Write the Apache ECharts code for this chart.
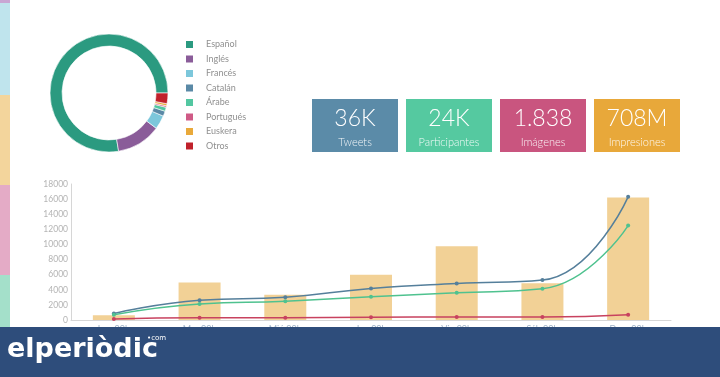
<!DOCTYPE html>
<html>
<head>
<meta charset="utf-8">
<script src="https://cdn.jsdelivr.net/npm/echarts@6/dist/echarts.min.js"></script>
<style>
  html, body { margin: 0; padding: 0; background: #fff; }
  #main { width: 720px; height: 377px; }
</style>
</head>
<body>
<div id="main"></div>
<script type="text/javascript">
// idiomas (donut)
var langNames = ['Español', 'Inglés', 'Francés', 'Catalán', 'Árabe', 'Portugués', 'Euskera', 'Otros'];
var langValues = [77.6, 12.2, 3.8, 1.4, 1.1, 0.4, 0.6, 2.9];
var langColors = ['#2b9a80', '#8a5c99', '#7cc7db', '#5a89a6', '#53c7a1', '#cf5a86', '#e9a93a', '#c0212b'];

// cifras
var kpiValues = ['36K', '24K', '1.838', '708M'];
var kpiLabels = ['Tweets', 'Participantes', 'Imágenes', 'Impresiones'];
var kpiColors = ['#5b8ba8', '#55c9a0', '#c9557f', '#e8a83a'];

// evolucion
var categories = ['Lun 00h', 'Mar 00h', 'Mié 00h', 'Jue 00h', 'Vie 00h', 'Sáb 00h', 'Dom 00h'];
var barValues = [620, 4970, 3330, 6000, 9750, 4850, 16200];
var tweetsLine = [850, 2620, 3020, 4180, 4840, 5290, 16300];
var usersLine = [700, 2130, 2490, 3070, 3600, 4130, 12500];
var imagesLine = [130, 310, 300, 350, 400, 400, 700];

var myChart = echarts.init(document.getElementById('main'));

var font = 'Lato, "Open Sans", sans-serif';

// franja lateral izquierda
var strip = [
    [0, 3, '#c9a6d3'],
    [3, 95, '#bfe4ed'],
    [95, 185, '#f3d59c'],
    [185, 275, '#e4abc6'],
    [275, 327, '#a4e0ca']
];
var graphics = [];
strip.forEach(function (s) {
    graphics.push({
        type: 'rect', left: 0, top: s[0], z: 1,
        shape: { width: 10, height: s[1] - s[0] },
        style: { fill: s[2] }
    });
});

// cajas de cifras
kpiValues.forEach(function (v, i) {
    var x = 312 + i * 94;
    graphics.push({
        type: 'rect', left: x, top: 99, z: 1,
        shape: { width: 86, height: 53 },
        style: { fill: kpiColors[i] }
    });
    graphics.push({
        type: 'text', x: x + 43, y: 119, z: 2,
        style: { text: v, fill: '#fff', font: '300 23px ' + font, align: 'center', verticalAlign: 'middle' }
    });
    graphics.push({
        type: 'text', x: x + 43, y: 142, z: 2,
        style: { text: kpiLabels[i], fill: '#fff', font: '300 11px ' + font, align: 'center', verticalAlign: 'middle', opacity: 0.92 }
    });
});

// banda inferior
graphics.push({
    type: 'rect', left: 0, top: 327, z: 100,
    shape: { width: 720, height: 50 },
    style: { fill: '#2e4d7b' }
});
graphics.push({
    type: 'text', x: 7, y: 350, z: 101,
    style: { text: 'elperiòdic', fill: '#fff', font: 'bold 27px "DejaVu Sans", sans-serif', verticalAlign: 'middle' }
});
graphics.push({
    type: 'text', x: 147, y: 338, z: 101,
    style: { text: '•com', fill: '#fff', font: '7px "DejaVu Sans", sans-serif', verticalAlign: 'middle' }
});

var option = {
    backgroundColor: '#fff',
    animation: false,
    textStyle: { fontFamily: font },
    legend: {
        data: langNames,
        orient: 'vertical',
        left: 184,
        top: 39,
        padding: 0,
        itemWidth: 9,
        itemHeight: 9,
        itemGap: 3.5,
        icon: 'rect',
        textStyle: { fontSize: 9, lineHeight: 9, color: '#909090', padding: [0, 0, 0, 7] }
    },
    grid: { left: 71, right: 49, top: 184, bottom: 57 },
    xAxis: {
        type: 'category',
        data: categories,
        axisLine: { lineStyle: { color: '#d6d6d6' } },
        axisTick: { show: false },
        axisLabel: { color: '#9fb3c8', fontSize: 9, margin: 5 }
    },
    yAxis: {
        type: 'value',
        min: 0,
        max: 18000,
        interval: 2000,
        axisLine: { show: true, lineStyle: { color: '#d6d6d6' } },
        axisTick: { show: false },
        splitLine: { show: false },
        axisLabel: {
            color: '#b4b4b4', fontSize: 8.5, margin: 3,
            formatter: function (v) { return String(v); }
        }
    },
    series: [
        {
            type: 'pie',
            radius: [47, 59],
            center: [109, 93],
            startAngle: 0,
            clockwise: false,
            label: { show: false },
            labelLine: { show: false },
            itemStyle: { borderColor: '#fff', borderWidth: 0.6 },
            data: langNames.map(function (n, i) {
                return { name: n, value: langValues[i], itemStyle: { color: langColors[i] } };
            })
        },
        {
            name: 'Total',
            type: 'bar',
            data: barValues,
            barWidth: 42,
            itemStyle: { color: '#f2d196' }
        },
        {
            name: 'Tweets',
            type: 'line',
            smooth: true,
            data: tweetsLine,
            symbol: 'circle',
            symbolSize: 4,
            itemStyle: { color: '#557f9b' },
            lineStyle: { width: 1.5, color: '#557f9b' }
        },
        {
            name: 'Participantes',
            type: 'line',
            smooth: true,
            data: usersLine,
            symbol: 'circle',
            symbolSize: 4,
            itemStyle: { color: '#4fc28f' },
            lineStyle: { width: 1.5, color: '#4fc28f' }
        },
        {
            name: 'Imágenes',
            type: 'line',
            smooth: true,
            data: imagesLine,
            symbol: 'circle',
            symbolSize: 4,
            itemStyle: { color: '#c8425f' },
            lineStyle: { width: 1.5, color: '#c8425f' }
        }
    ],
    graphic: graphics
};

myChart.setOption(option);
</script>
</body>
</html>
